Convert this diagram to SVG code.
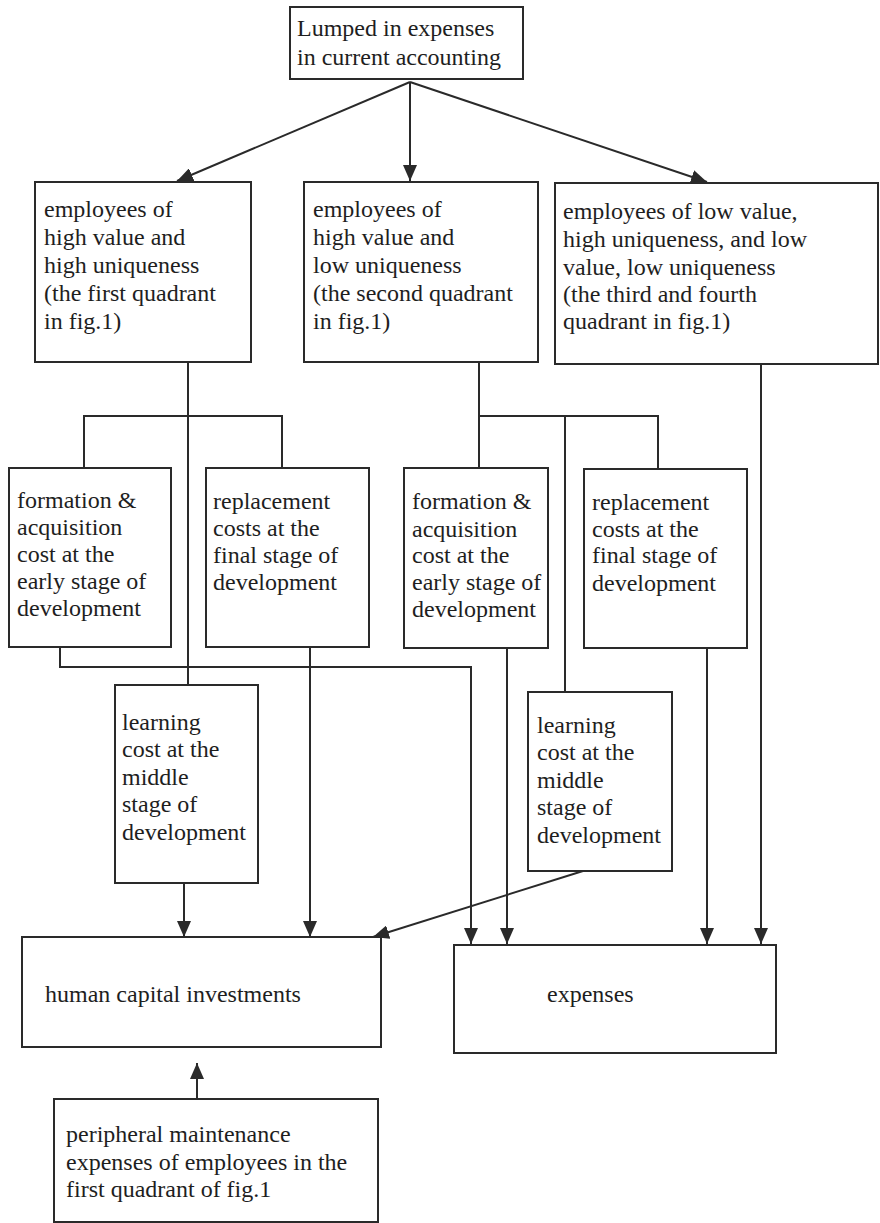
<svg xmlns="http://www.w3.org/2000/svg" width="880" height="1223" viewBox="0 0 880 1223">
<defs>
<style>
.box{fill:#fff;stroke:#2a2a2a;stroke-width:2}
.t{font-size:24px;fill:#1e1e1e}
.c{fill:none;stroke:#2a2a2a;stroke-width:2}
.a{fill:none;stroke:#2a2a2a;stroke-width:2;marker-end:url(#ah)}
</style>
<marker id="ah" viewBox="0 0 16 14" refX="16" refY="7" markerWidth="16" markerHeight="14" markerUnits="userSpaceOnUse" orient="auto">
<path d="M0,0 L16,7 L0,14 z" fill="#2a2a2a"/>
</marker>
</defs>
<rect width="880" height="1223" fill="#fff"/>
<g id="connectors">
<line class="a" x1="410" y1="82" x2="177" y2="181"/>
<line class="a" x1="410" y1="82" x2="410" y2="181"/>
<line class="a" x1="410" y1="82" x2="707" y2="182"/>
<line class="c" x1="188" y1="362" x2="188" y2="685"/>
<polyline class="c" points="84,468 84,416 282,416 282,468"/>
<polyline class="a" points="60,647 60,667 471,667 471,944"/>
<line class="a" x1="310" y1="647" x2="310" y2="937"/>
<line class="a" x1="184" y1="883" x2="184" y2="937"/>
<line class="c" x1="479" y1="363" x2="479" y2="468"/>
<polyline class="c" points="479,416 658,416 658,469"/>
<line class="c" x1="565" y1="416" x2="565" y2="692"/>
<line class="a" x1="507" y1="648" x2="507" y2="944"/>
<line class="a" x1="707" y1="648" x2="707" y2="944"/>
<line class="a" x1="761" y1="364" x2="761" y2="944"/>
<line class="a" x1="583" y1="871" x2="373" y2="937"/>
<line class="a" x1="197" y1="1099" x2="197" y2="1063"/>
</g>
<g font-family="'Liberation Serif', Tinos, 'Times New Roman', 'DejaVu Serif', serif">
<g id="top">
<rect class="box" x="290" y="7" width="233" height="72"/>
<text class="t" x="297" y="36">Lumped in expenses</text>
<text class="t" x="297" y="65">in current accounting</text>
</g>
<g id="q1">
<rect class="box" x="35" y="182" width="216" height="180"/>
<text class="t" x="44" y="217">employees of</text>
<text class="t" x="44" y="245">high value and</text>
<text class="t" x="44" y="273">high uniqueness</text>
<text class="t" x="44" y="301">(the first quadrant</text>
<text class="t" x="44" y="329">in fig.1)</text>
</g>
<g id="q2">
<rect class="box" x="304" y="182" width="234" height="180"/>
<text class="t" x="313" y="217">employees of</text>
<text class="t" x="313" y="245">high value and</text>
<text class="t" x="313" y="273">low uniqueness</text>
<text class="t" x="313" y="301">(the second quadrant</text>
<text class="t" x="313" y="329">in fig.1)</text>
</g>
<g id="q34">
<rect class="box" x="555" y="183" width="323" height="181"/>
<text class="t" x="563" y="219">employees of low value,</text>
<text class="t" x="563" y="247">high uniqueness, and low</text>
<text class="t" x="563" y="275">value, low uniqueness</text>
<text class="t" x="563" y="302">(the third and fourth</text>
<text class="t" x="563" y="329">quadrant in fig.1)</text>
</g>
<g id="formation1">
<rect class="box" x="9" y="468" width="162" height="179"/>
<text class="t" x="17" y="508">formation &amp;</text>
<text class="t" x="17" y="535">acquisition</text>
<text class="t" x="17" y="562">cost at the</text>
<text class="t" x="17" y="589">early stage of</text>
<text class="t" x="17" y="616">development</text>
</g>
<g id="replacement1">
<rect class="box" x="206" y="468" width="163" height="179"/>
<text class="t" x="213" y="509">replacement</text>
<text class="t" x="213" y="536">costs at the</text>
<text class="t" x="213" y="563">final stage of</text>
<text class="t" x="213" y="590">development</text>
</g>
<g id="formation2">
<rect class="box" x="404" y="468" width="144" height="180"/>
<text class="t" x="412" y="509">formation &amp;</text>
<text class="t" x="412" y="537">acquisition</text>
<text class="t" x="412" y="563">cost at the</text>
<text class="t" x="412" y="590">early stage of</text>
<text class="t" x="412" y="617">development</text>
</g>
<g id="replacement2">
<rect class="box" x="584" y="469" width="163" height="179"/>
<text class="t" x="592" y="510">replacement</text>
<text class="t" x="592" y="537">costs at the</text>
<text class="t" x="592" y="563">final stage of</text>
<text class="t" x="592" y="591">development</text>
</g>
<g id="learning1">
<rect class="box" x="115" y="685" width="143" height="198"/>
<text class="t" x="122" y="730">learning</text>
<text class="t" x="122" y="757">cost at the</text>
<text class="t" x="122" y="785">middle</text>
<text class="t" x="122" y="812">stage of</text>
<text class="t" x="122" y="840">development</text>
</g>
<g id="learning2">
<rect class="box" x="528" y="692" width="144" height="179"/>
<text class="t" x="537" y="733">learning</text>
<text class="t" x="537" y="760">cost at the</text>
<text class="t" x="537" y="788">middle</text>
<text class="t" x="537" y="815">stage of</text>
<text class="t" x="537" y="843">development</text>
</g>
<g id="hci">
<rect class="box" x="22" y="937" width="359" height="110"/>
<text class="t" x="45" y="1002">human capital investments</text>
</g>
<g id="expenses">
<rect class="box" x="454" y="945" width="322" height="108"/>
<text class="t" x="547" y="1002">expenses</text>
</g>
<g id="peripheral">
<rect class="box" x="54" y="1099" width="324" height="123"/>
<text class="t" x="66" y="1142">peripheral maintenance</text>
<text class="t" x="66" y="1170">expenses of employees in the</text>
<text class="t" x="66" y="1197">first quadrant of fig.1</text>
</g>
</g>
</svg>
